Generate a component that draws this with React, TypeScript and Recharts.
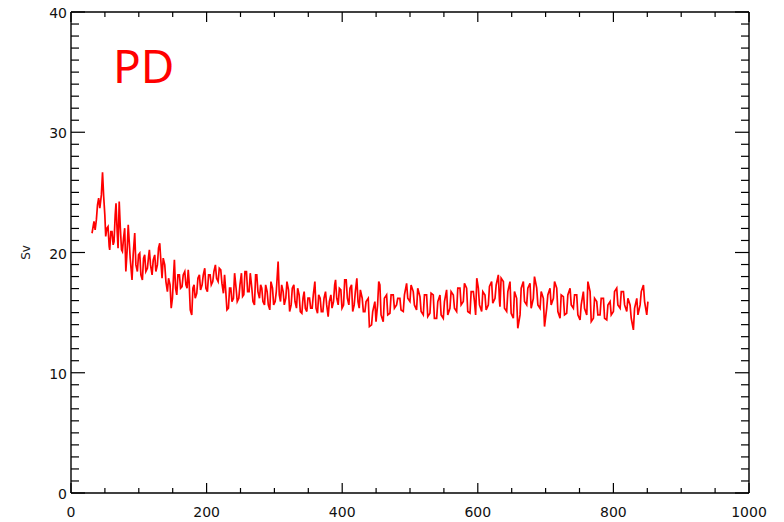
import { LineChart, Line, XAxis, YAxis } from "recharts";

// the curve is a dense noisy band: for each step along x we read the top
// and the bottom of the spikes off the picture (Sv)
const firstDay = 31;
const firstSv = 21.6;

const bandDay = [
  33.9, 37.4, 40.8, 44.8, 48.2, 51.2, 54.6, 57.1, 60.5, 63.5, 66.4, 69.4, 72.8, 75.8, 79.2, 82.7, 85.6, 90.0, 94.0, 97.9,
  101.4, 105.3, 108.7, 112.7, 115.6, 119.6, 123.5, 127.4, 130.9, 134.3, 138.3, 142.2, 146.1, 149.6, 152.5, 156.0, 159.9, 163.8, 167.8, 171.2,
  174.2, 178.1, 181.5, 185.5, 189.4, 193.4, 197.3, 201.2, 205.2, 209.1, 213.0, 217.0, 220.9, 224.8, 228.3, 232.2, 235.7, 239.6, 243.5, 247.5,
  251.4, 254.9, 258.8, 262.7, 266.7, 270.6, 274.0, 278.0, 281.4, 285.4, 289.3, 293.2, 297.2, 301.1, 305.5, 309.0, 312.9, 316.8, 320.8, 324.7,
  328.7, 332.6, 336.5, 340.5, 343.9, 347.8, 351.8, 355.7, 359.7, 363.6, 367.5, 371.5, 375.4, 379.3, 383.3, 387.2, 390.2, 394.1, 398.0, 402.0,
  405.9, 409.8, 413.8, 417.7, 421.6, 425.1, 429.5, 433.5, 438.4, 443.3, 448.2, 452.2, 455.6, 460.5, 465.5, 470.4, 475.3, 480.2, 485.1, 490.1,
  495.0, 499.9, 504.8, 509.7, 514.7, 519.6, 524.5, 529.4, 534.3, 539.3, 544.2, 549.1, 554.0, 558.9, 563.9, 568.8, 573.7, 578.6, 583.5, 588.5,
  593.4, 596.8, 600.8, 605.7, 610.6, 615.5, 620.4, 625.4, 630.3, 632.7, 637.7, 642.6, 647.5, 652.4, 657.3, 662.3, 667.2, 672.1, 677.0, 681.9,
  686.9, 691.8, 696.7, 701.6, 706.5, 711.5, 716.4, 721.3, 726.2, 731.1, 736.1, 741.0, 745.9, 750.8, 755.7, 760.7, 765.6, 770.5, 775.4, 780.3,
  785.3, 790.2, 795.1, 800.0, 804.9, 809.9, 814.8, 819.7, 824.6, 829.5, 834.5, 839.4, 844.3, 849.2,
];

const bandHigh = [
  22.58, 23.96, 24.52, 26.68, 24.66, 22.02, 22.16, 21.74, 21.74, 23.13, 24.10, 24.24, 22.02, 21.19, 22.02, 22.30, 21.19, 19.80, 21.61, 19.80,
  19.94, 19.53, 19.80, 19.66, 20.22, 19.39, 19.80, 20.36, 20.77, 19.53, 18.97, 17.86, 17.31, 18.14, 19.39, 18.14, 18.14, 18.14, 18.42, 18.56,
  17.58, 17.03, 17.31, 17.86, 18.14, 18.14, 18.69, 18.14, 18.14, 18.42, 18.97, 18.69, 18.56, 18.14, 16.75, 17.03, 17.03, 18.28, 17.03, 17.31,
  18.28, 18.42, 18.42, 18.28, 17.03, 18.14, 18.14, 17.31, 17.03, 17.31, 16.75, 17.58, 17.03, 16.75, 19.25, 17.31, 16.75, 17.58, 16.89, 17.03,
  17.31, 17.03, 16.48, 16.20, 16.75, 16.20, 16.20, 16.48, 17.58, 16.48, 16.20, 16.20, 16.75, 15.92, 16.48, 17.31, 17.72, 17.03, 16.89, 17.72,
  17.72, 17.03, 17.31, 16.75, 17.86, 16.89, 16.20, 15.92, 16.19, 15.09, 15.92, 17.58, 17.30, 16.19, 16.47, 16.47, 16.47, 16.19, 16.19, 16.47,
  17.44, 17.30, 16.75, 17.03, 16.33, 16.47, 16.47, 16.61, 16.47, 15.92, 16.47, 15.92, 16.89, 16.75, 16.47, 17.03, 17.03, 17.44, 17.03, 16.75,
  16.75, 17.86, 17.03, 16.75, 16.47, 17.17, 17.58, 17.30, 18.14, 17.86, 17.58, 16.75, 17.58, 16.75, 16.19, 17.03, 17.58, 17.03, 17.44, 18.00,
  17.03, 16.75, 16.19, 16.47, 17.03, 17.58, 17.03, 16.47, 16.33, 16.47, 17.03, 16.47, 16.47, 15.64, 16.75, 17.58, 16.75, 16.19, 15.92, 16.19,
  16.19, 15.64, 15.92, 16.75, 17.03, 16.75, 16.75, 16.19, 15.64, 15.36, 16.19, 16.75, 17.30, 15.92,
];

const bandLow = [
  21.88, 22.71, 23.69, 24.79, 23.13, 21.33, 20.50, 20.22, 20.64, 20.91, 21.74, 20.36, 20.22, 20.08, 18.42, 20.08, 19.53, 17.72, 18.97, 18.42,
  18.14, 17.72, 18.42, 18.69, 18.97, 18.14, 18.42, 18.97, 19.25, 17.86, 17.58, 16.75, 15.37, 16.20, 17.03, 16.48, 17.03, 17.17, 17.31, 17.03,
  15.23, 14.81, 16.20, 16.61, 16.89, 17.31, 17.03, 16.75, 17.31, 17.58, 17.86, 17.58, 17.45, 16.61, 15.23, 15.37, 15.92, 16.20, 15.92, 16.20,
  16.34, 16.48, 16.75, 16.75, 15.92, 15.64, 16.75, 16.20, 15.92, 15.64, 15.64, 15.23, 15.64, 15.92, 16.48, 15.92, 15.64, 16.20, 15.09, 15.64,
  15.92, 15.37, 15.09, 14.95, 15.37, 15.09, 15.37, 15.37, 15.37, 14.95, 15.09, 15.09, 15.64, 14.67, 15.37, 15.92, 16.20, 15.64, 15.37, 15.64,
  16.20, 15.64, 15.09, 15.64, 15.92, 15.37, 15.09, 15.09, 13.84, 13.98, 14.25, 15.64, 14.81, 14.25, 14.81, 14.95, 15.36, 15.64, 15.22, 15.09,
  16.19, 15.92, 15.64, 15.22, 15.09, 14.81, 14.67, 14.95, 14.53, 14.53, 14.81, 14.53, 14.81, 15.36, 15.36, 15.09, 15.64, 15.92, 15.09, 14.95,
  15.92, 14.81, 15.64, 15.09, 15.22, 15.64, 15.78, 16.19, 15.92, 15.50, 15.36, 15.09, 14.95, 14.53, 13.70, 14.81, 15.92, 15.64, 15.36, 16.19,
  15.64, 15.36, 13.84, 15.36, 15.64, 16.19, 15.09, 14.53, 14.81, 14.95, 15.64, 15.36, 14.81, 14.39, 15.36, 14.81, 14.25, 14.53, 14.81, 14.81,
  14.53, 14.39, 14.81, 15.09, 15.64, 15.36, 15.64, 15.09, 14.53, 13.56, 14.81, 15.64, 15.92, 14.81,
];

const xTicks = Array.from({ length: 21 }, (_, i) => i * 50);
const yTicks = Array.from({ length: 41 }, (_, i) => i);
const xLabelEvery = 200;
const yLabelEvery = 10;

// high and low of each step become consecutive points, order flipped every other step
const data: { day: number; sv: number }[] = [{ day: firstDay, sv: firstSv }];
bandDay.forEach((d, i) => {
  const a = i % 2 === 0 ? bandHigh[i] : bandLow[i];
  const b = i % 2 === 0 ? bandLow[i] : bandHigh[i];
  data.push({ day: d, sv: a });
  data.push({ day: d + 1.7, sv: b });
});

const AXIS = "#000";
const labelFont = "'DejaVu Sans', sans-serif";

function BottomTick({ x, y, payload }: any) {
  const major = payload.value % xLabelEvery === 0;
  return (
    <g>
      <line x1={x} y1={y} x2={x} y2={y - (major ? 10 : 5)} stroke={AXIS} strokeWidth={1.2} />
      {major && (
        <text x={x} y={y + 24} textAnchor="middle" fontSize={14} fontFamily={labelFont} fill="#111">
          {payload.value}
        </text>
      )}
    </g>
  );
}

function TopTick({ x, y, payload }: any) {
  const major = payload.value % xLabelEvery === 0;
  return <line x1={x} y1={y} x2={x} y2={y + (major ? 10 : 5)} stroke={AXIS} strokeWidth={1.2} />;
}

function LeftTick({ x, y, payload }: any) {
  const major = payload.value % yLabelEvery === 0;
  return (
    <g>
      <line x1={x} y1={y} x2={x + (major ? 14 : 8)} y2={y} stroke={AXIS} strokeWidth={1.2} />
      {major && (
        <text x={x - 4} y={y + 6} textAnchor="end" fontSize={14} fontFamily={labelFont} fill="#111">
          {payload.value}
        </text>
      )}
    </g>
  );
}

function RightTick({ x, y, payload }: any) {
  const major = payload.value % yLabelEvery === 0;
  return <line x1={x} y1={y} x2={x - (major ? 14 : 8)} y2={y} stroke={AXIS} strokeWidth={1.2} />;
}

function SvLabel({ viewBox }: any) {
  const cy = viewBox.y + viewBox.height / 2;
  return (
    <text
      x={30}
      y={cy}
      transform={`rotate(-90 30 ${cy})`}
      textAnchor="middle"
      fontSize={12}
      fontFamily={labelFont}
      fill="#222"
    >
      Sv
    </text>
  );
}

export default function App() {
  return (
    <div style={{ position: "absolute", left: 0, top: 0, width: 784, height: 522, background: "#fff" }}>
      <LineChart width={784} height={522} data={data} margin={{ top: 0, right: 0, bottom: 0, left: 0 }}>
        <XAxis
          xAxisId="b"
          dataKey="day"
          type="number"
          domain={[0, 1000]}
          allowDataOverflow
          ticks={xTicks}
          interval={0}
          height={29}
          tickSize={0}
          tickMargin={0}
          tickLine={false}
          axisLine={{ stroke: AXIS, strokeWidth: 1.4 }}
          tick={<BottomTick />}
        />
        <XAxis
          xAxisId="t"
          orientation="top"
          dataKey="day"
          type="number"
          domain={[0, 1000]}
          allowDataOverflow
          ticks={xTicks}
          interval={0}
          height={12}
          tickSize={0}
          tickMargin={0}
          tickLine={false}
          axisLine={{ stroke: AXIS, strokeWidth: 1.4 }}
          tick={<TopTick />}
        />
        <YAxis
          yAxisId="l"
          type="number"
          domain={[0, 40]}
          allowDataOverflow
          ticks={yTicks}
          interval={0}
          width={71}
          tickSize={0}
          tickMargin={0}
          tickLine={false}
          axisLine={{ stroke: AXIS, strokeWidth: 1.4 }}
          tick={<LeftTick />}
          label={<SvLabel />}
        />
        <YAxis
          yAxisId="r"
          orientation="right"
          type="number"
          domain={[0, 40]}
          allowDataOverflow
          ticks={yTicks}
          interval={0}
          width={35}
          tickSize={0}
          tickMargin={0}
          tickLine={false}
          axisLine={{ stroke: AXIS, strokeWidth: 1.4 }}
          tick={<RightTick />}
        />
        <Line
          xAxisId="b"
          yAxisId="l"
          dataKey="sv"
          type="linear"
          stroke="#ff0000"
          strokeWidth={1.7}
          dot={false}
          isAnimationActive={false}
        />
        <Line
          xAxisId="t"
          yAxisId="r"
          dataKey="sv"
          stroke="none"
          dot={false}
          activeDot={false}
          isAnimationActive={false}
        />
      </LineChart>
      <div
        style={{
          position: "absolute",
          left: 113,
          top: 36,
          color: "#ff0000",
          fontFamily: "'Noto Sans', sans-serif",
          fontSize: 46,
          lineHeight: "58px",
        }}
      >
        PD
      </div>
    </div>
  );
}
